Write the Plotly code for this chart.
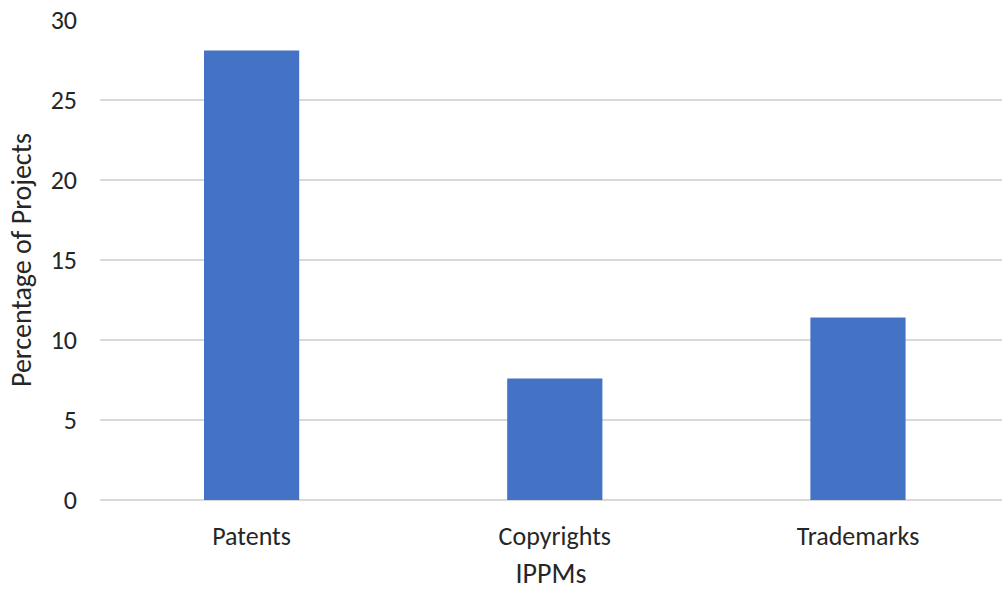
import plotly.graph_objects as go

categories = ["Patents", "Copyrights", "Trademarks"]
values = [28.1, 7.6, 11.4]
y_ticks = [0, 5, 10, 15, 20, 25, 30]

fig = go.Figure(go.Bar(x=categories, y=values, marker_color="#4472c4", width=0.314,
                       marker_line_width=0))
font = "Carlito, Lato, 'Open Sans', sans-serif"
fig.update_layout(
    width=1002, height=593,
    margin=dict(l=100, r=0, t=20, b=93),
    plot_bgcolor="white", paper_bgcolor="white",
    font=dict(family=font, size=26, color="#262626"),
    showlegend=False,
    xaxis=dict(range=[-0.5, 2.475], showgrid=False, showline=False, ticks="",
               ticklabelstandoff=18,
               title=dict(text="IPPMs", font=dict(size=28), standoff=12),
               tickfont=dict(size=26)),
    yaxis=dict(range=[0, 30], tickvals=y_ticks, showgrid=True, gridcolor="#d9d9d9",
               gridwidth=2, zeroline=True, zerolinecolor="#d9d9d9", zerolinewidth=2,
               showline=False, ticks="", ticklabelstandoff=22,
               title=dict(text="Percentage of Projects", font=dict(size=28), standoff=10),
               tickfont=dict(size=26)),
)
fig.write_html("out.html")
